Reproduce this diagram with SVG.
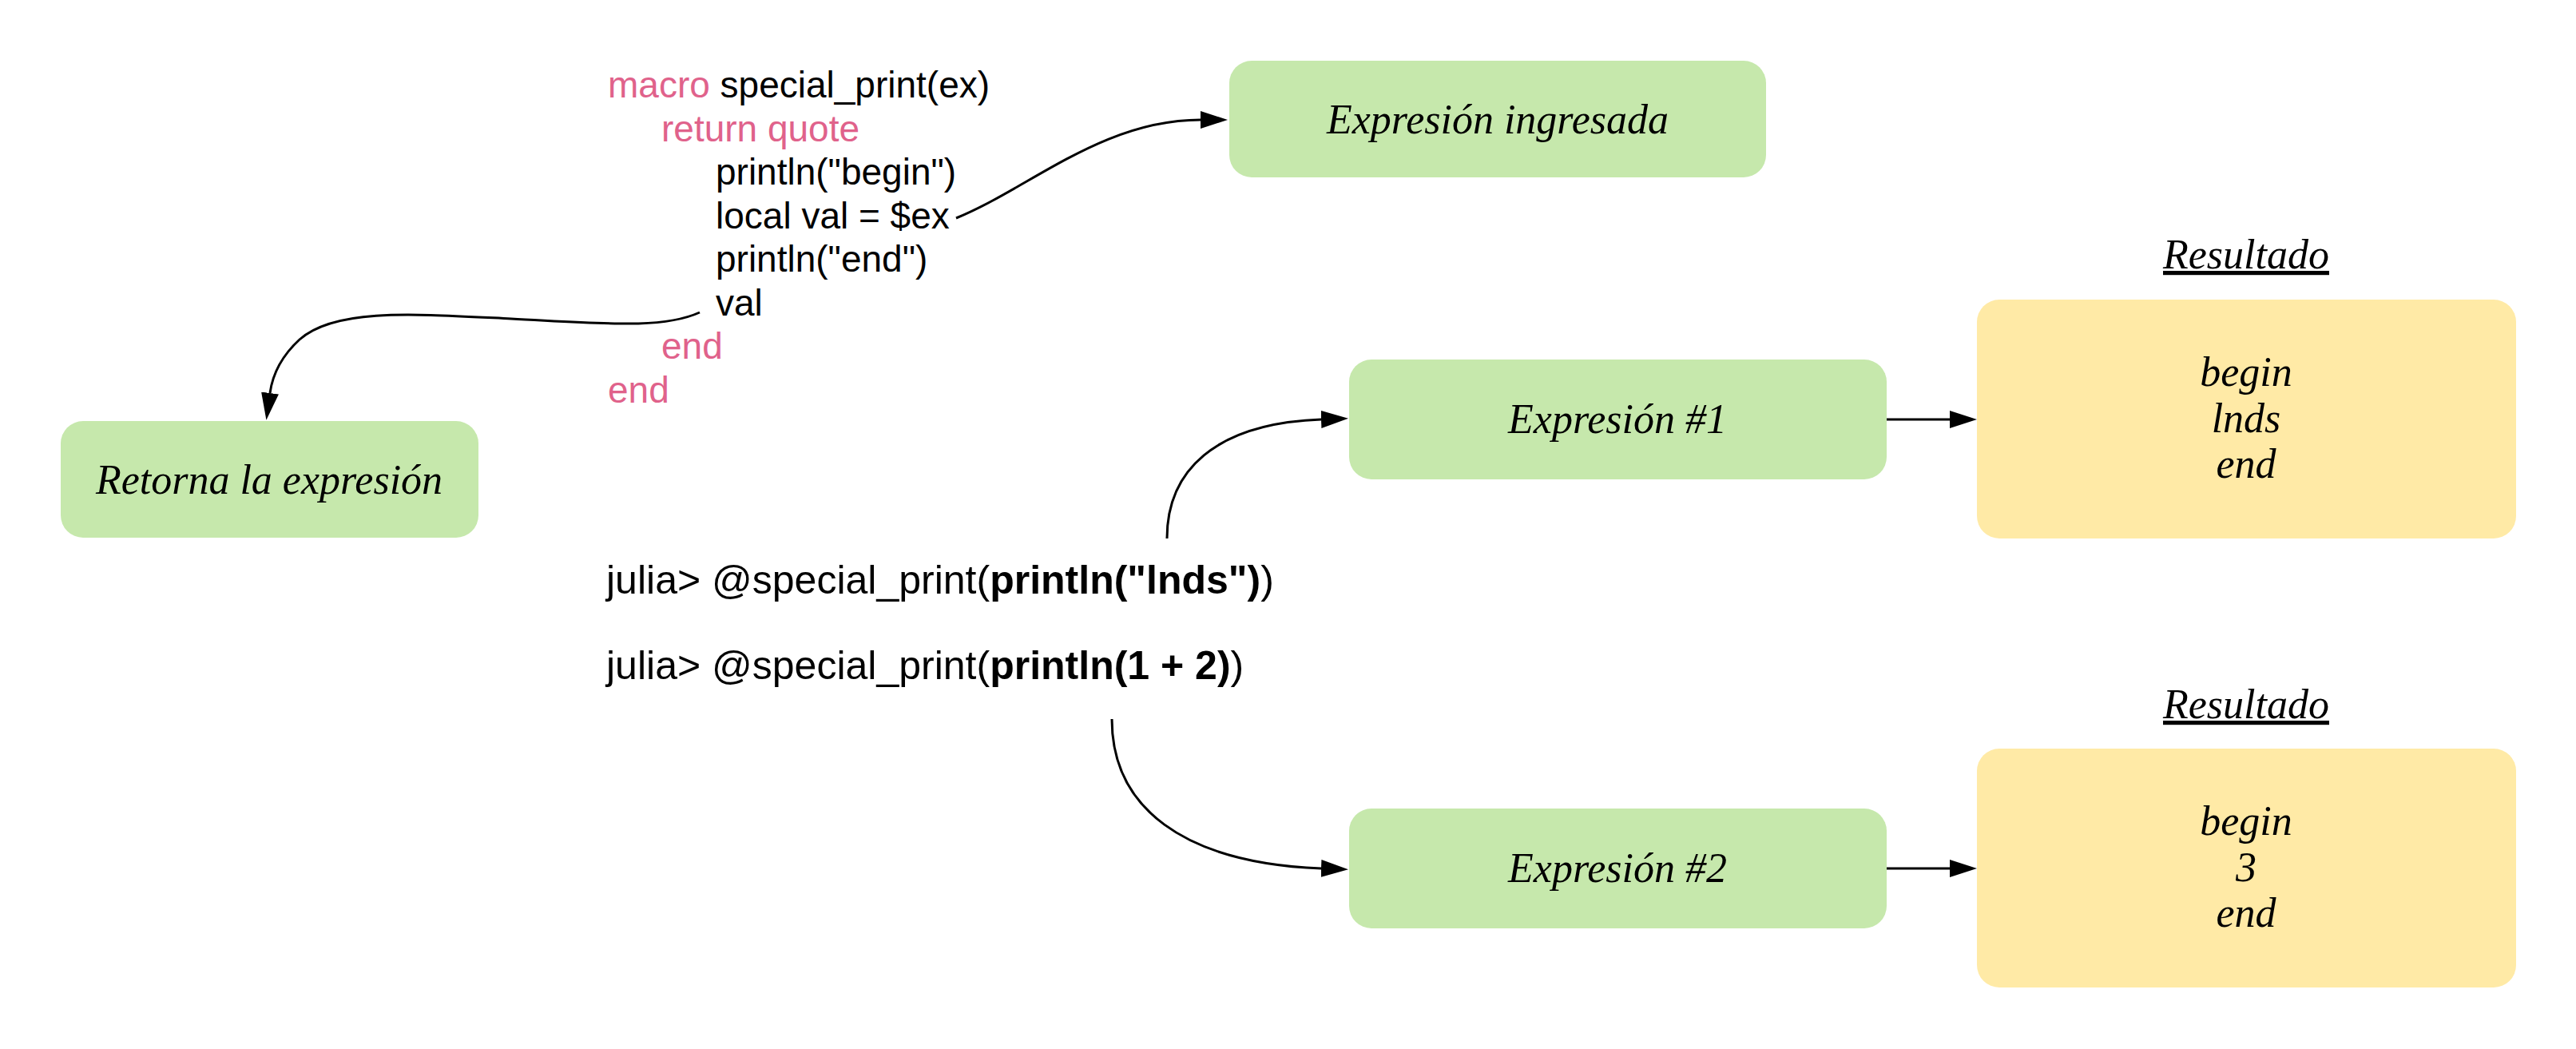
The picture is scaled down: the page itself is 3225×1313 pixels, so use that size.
<svg xmlns="http://www.w3.org/2000/svg" width="3225" height="1313" viewBox="0 0 3225 1313">
<style>
.green{fill:#c6e8ac}
.yellow{fill:#ffeaa6}
.script{font-family:"Liberation Serif",serif;font-style:italic;font-size:52px;fill:#000;text-anchor:middle}
.code{font-family:"Liberation Sans",Arial,sans-serif;font-size:46px;fill:#000}
.kw{fill:#e0628b}
.julia{font-family:"Liberation Sans",Arial,sans-serif;font-size:50px;fill:#000}
.edge{fill:none;stroke:#000;stroke-width:3}
</style>
<defs>
<marker id="arr" markerUnits="userSpaceOnUse" viewBox="0 0 34 22" markerWidth="34" markerHeight="22" refX="0" refY="11" orient="auto">
<path d="M0,0 L34,11 L0,22 z" fill="#000"/>
</marker>
</defs>
<rect width="3225" height="1313" fill="#fff"/>
<g id="code">
<text class="code" x="761" y="122"><tspan class="kw">macro</tspan> special_print(ex)</text>
<text class="code kw" x="828" y="177">return quote</text>
<text class="code" x="896" y="231">println("begin")</text>
<text class="code" x="896" y="286">local val = $ex</text>
<text class="code" x="896" y="340">println("end")</text>
<text class="code" x="896" y="395">val</text>
<text class="code kw" x="828" y="449">end</text>
<text class="code kw" x="761" y="504">end</text>
</g>
<g id="julia">
<text class="julia" x="759" y="743">julia&gt; @special_print(<tspan font-weight="bold">println("lnds")</tspan>)</text>
<text class="julia" x="759" y="850">julia&gt; @special_print(<tspan font-weight="bold">println(1 + 2)</tspan>)</text>
</g>
<g id="node-ingresada">
<rect class="green" x="1539" y="76" width="672" height="146" rx="28"/>
<text class="script" x="1875" y="167">Expresión ingresada</text>
</g>
<g id="node-retorna">
<rect class="green" x="76" y="527" width="523" height="146" rx="28"/>
<text class="script" x="337" y="618">Retorna la expresión</text>
</g>
<g id="node-exp1">
<rect class="green" x="1689" y="450" width="673" height="150" rx="28"/>
<text class="script" x="2025" y="542">Expresión #1</text>
</g>
<g id="node-exp2">
<rect class="green" x="1689" y="1012" width="673" height="150" rx="28"/>
<text class="script" x="2025" y="1104">Expresión #2</text>
</g>
<g id="label-res1">
<text class="script" x="2812" y="336" text-decoration="underline">Resultado</text>
</g>
<g id="node-res1">
<rect class="yellow" x="2475" y="375" width="675" height="299" rx="28"/>
<text class="script" x="2812" y="483">begin</text>
<text class="script" x="2812" y="541">lnds</text>
<text class="script" x="2812" y="598">end</text>
</g>
<g id="label-res2">
<text class="script" x="2812" y="899" text-decoration="underline">Resultado</text>
</g>
<g id="node-res2">
<rect class="yellow" x="2475" y="937" width="675" height="299" rx="28"/>
<text class="script" x="2812" y="1045">begin</text>
<text class="script" x="2812" y="1103">3</text>
<text class="script" x="2812" y="1160">end</text>
</g>
<g id="connectors">
<path class="edge" marker-end="url(#arr)" d="M1197,273 C1290,235 1380,150 1503,150"/>
<path class="edge" marker-end="url(#arr)" d="M876,391 C830,412 760,405 640,399 C520,393 420,385 375,425 C350,448 341,470 338,492"/>
<path class="edge" marker-end="url(#arr)" d="M1461,674 C1461,590 1520,530 1654,525"/>
<path class="edge" marker-end="url(#arr)" d="M1392,900 C1392,1010 1480,1080 1654,1087"/>
<path class="edge" marker-end="url(#arr)" d="M2362,525 L2441,525"/>
<path class="edge" marker-end="url(#arr)" d="M2362,1087 L2441,1087"/>
</g>
</svg>
